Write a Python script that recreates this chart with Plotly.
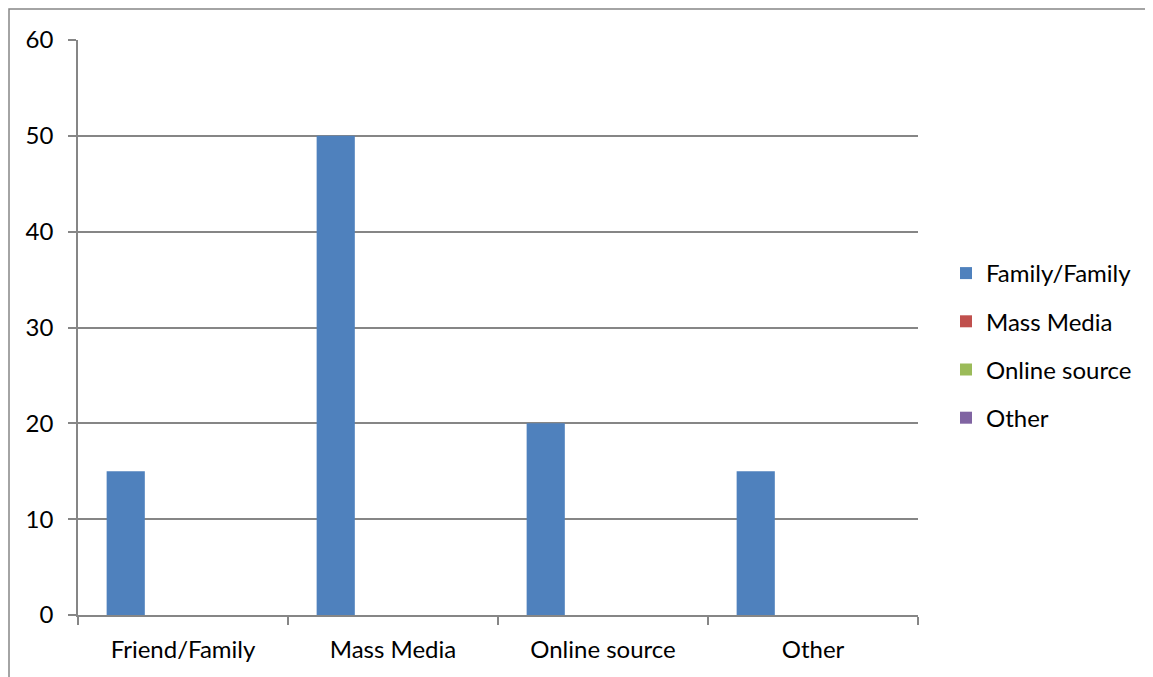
import plotly.graph_objects as go

categories = ["Friend/Family", "Mass Media", "Online source", "Other"]
series_names = ["Family/Family", "Mass Media", "Online source", "Other"]
series_values = [
    [15, 50, 20, 15],
    [None, None, None, None],
    [None, None, None, None],
    [None, None, None, None],
]
colors = ["#4F81BD", "#C0504D", "#9BBB59", "#8064A2"]
y_ticks = [0, 10, 20, 30, 40, 50, 60]

fig = go.Figure()
for name, vals, c in zip(series_names, series_values, colors):
    fig.add_trace(go.Bar(x=categories, y=vals, name=name, marker=dict(color=c, line=dict(width=0)),
                         legendgroup=name))

# page body has an 8px offset
OFF = 8
L, R, T, B = 78 - OFF, 918 - OFF, 40 - OFF, 615 - OFF
W, H = 1153 - OFF, 677 - OFF
fig.update_layout(
    width=W, height=H,
    margin=dict(l=L, r=W - R, t=T, b=H - B),
    paper_bgcolor="white", plot_bgcolor="white",
    barmode="group", bargap=1.5 / 5.5, bargroupgap=0,
    font=dict(family="Lato, Carlito, sans-serif", size=24, color="#000000"),
    showlegend=True,
    legend=dict(x=(946 - OFF - L) / (R - L), xanchor="left", y=1 - (345.5 - OFF - T) / (B - T), yanchor="middle",
                font=dict(size=24), tracegroupgap=14, itemwidth=30, bgcolor="rgba(0,0,0,0)"),
    xaxis=dict(type="category", showgrid=False, showline=True, linecolor="#868686", linewidth=1.5,
               ticks="outside", ticklen=8, tickcolor="#868686", tickwidth=1.5, tickson="boundaries",
               tickfont=dict(size=24), ticklabelstandoff=12),
    yaxis=dict(range=[0, 60], tickvals=y_ticks, showgrid=True, gridcolor="#868686", gridwidth=1.5,
               showline=True, linecolor="#868686", linewidth=1.5, ticks="outside", ticklen=8,
               tickcolor="#868686", tickwidth=1.5, zeroline=False, tickfont=dict(size=24), ticklabelstandoff=10),
)
# outer chart border
fig.add_shape(type="rect", xref="paper", yref="paper",
              x0=(1 - L) / (R - L), x1=(W + 20 - L) / (R - L),
              y0=1 - (H + 20 - T) / (B - T), y1=1 - (1 - T) / (B - T),
              line=dict(color="#868686", width=1.5), fillcolor="rgba(0,0,0,0)", layer="below")

fig.write_html("out.html")
